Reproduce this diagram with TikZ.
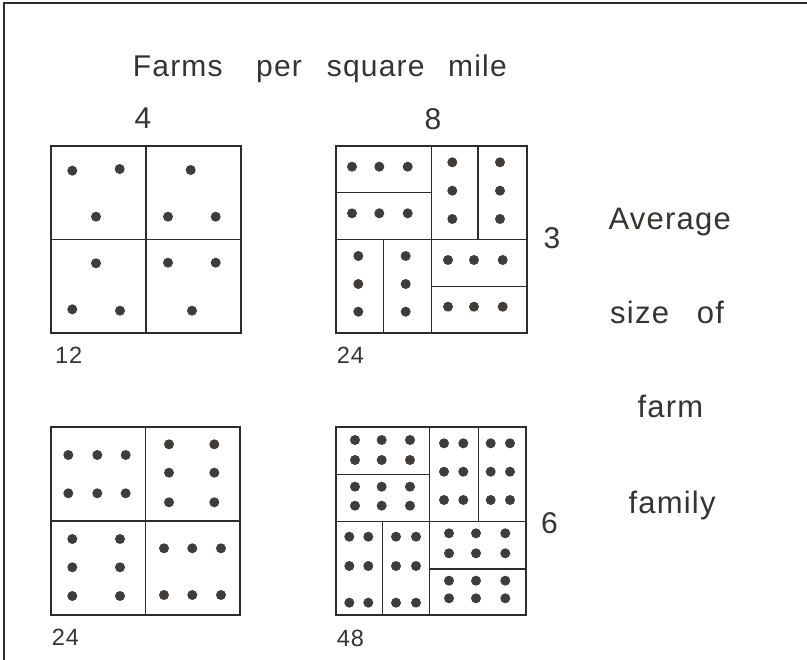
\documentclass[tikz,border=0pt]{standalone}
\usepackage{fontspec}
\setmainfont{Liberation Sans}
\newfontfamily\spaced[LetterSpace=4]{Liberation Sans}
\definecolor{ink}{HTML}{2E2B28}
\definecolor{txt}{HTML}{37332F}
\begin{document}
\begin{tikzpicture}[x=1pt,y=-1pt,
  frame/.style={line width=2pt,draw=ink},
  box/.style={line width=1.4pt,draw=ink},
  split/.style={line width=1.2pt,draw=ink},
  dot/.style={fill=ink!92,draw=none},
  big/.style={inner sep=0pt,text=txt,font=\spaced\fontsize{30}{36}\selectfont},
  side/.style={inner sep=0pt,text=txt,font=\spaced\fontsize{31}{37}\selectfont},
  small/.style={inner sep=0pt,text=txt,font=\spaced\fontsize{23.5}{28}\selectfont}]
\useasboundingbox[fill=white] (0,0) rectangle (807,660);
% frame (top and left edges)
\coordinate (fTR) at (807,3.5);
\coordinate (fTL) at (3.5,3.5);
\coordinate (fBL) at (3.5,660);
\draw[frame] (fTR) -- (fTL) -- (fBL);
% title
\node[big,anchor=base west] (t1) at (132.7,77) {Farms};
\node[big,anchor=base west] (t2) at (256,77) {per};
\node[big,anchor=base west] (t3) at (326.7,77) {square};
\node[big,anchor=base west] (t4) at (448,77) {mile};
\node[big,anchor=base] (n4) at (143,128.5) {4};
\node[big,anchor=base] (n8) at (433,130) {8};
% right text
\node[big,anchor=base west] (n3) at (543.3,248.3) {3};
\node[big,anchor=base west] (n6) at (541,534) {6};
\node[side,anchor=base west] (r1) at (608.3,230) {Average};
\node[side,anchor=base west] (r2a) at (610,324) {size};
\node[side,anchor=base west] (r2b) at (696.7,324) {of};
\node[side,anchor=base west] (r3) at (637.3,417.3) {farm};
\node[side,anchor=base west] (r4) at (628.3,513.3) {family};
% small labels
\node[small,anchor=base west] (l12) at (55,364) {12};
\node[small,anchor=base west] (l24a) at (336.7,364) {24};
\node[small,anchor=base west] (l24b) at (51.7,645) {24};
\node[small,anchor=base west] (l48) at (336.7,646) {48};
% ---- Square A (top left) ----
\draw[split] (146,146) -- (146,333);
\draw[split] (51,239.5) -- (241,239.5);
\draw[box] (51,146) rectangle (241,333);
\foreach \x/\y in {72.3/170.7,119.7/169,96/216.7,190.7/170,168/216.7,215.7/216.7,
  96/263.3,72.3/309.3,120/310.7,168/262.7,215.7/262.7,192/310.7}
  \fill[dot] (\x,\y) circle (5);
% ---- Square B (top right) ----
\draw[split] (336,239.5) -- (527,239.5);
\draw[split] (431.5,146) -- (431.5,333);
\draw[split] (336,192.5) -- (431.5,192.5);
\draw[split] (478,146) -- (478,239.5);
\draw[split] (383.5,239.5) -- (383.5,333);
\draw[split] (431.5,286.5) -- (527,286.5);
\draw[box] (336,146) rectangle (527,333);
\foreach \y in {166.7,213.3} \foreach \x in {352,379.3,407.7}
  \fill[dot] (\x,\y) circle (5);
\foreach \x in {452.3,500} \foreach \y in {162.3,190.7,219}
  \fill[dot] (\x,\y) circle (5);
\foreach \x in {358.3,405.7} \foreach \y in {256,284,311.7}
  \fill[dot] (\x,\y) circle (5);
\foreach \y in {260,306.7} \foreach \x in {448,474,502.7}
  \fill[dot] (\x,\y) circle (5);
% ---- Square C (bottom left) ----
\draw[split] (145.7,427) -- (145.7,615);
\draw[split] (51,521) -- (240,521);
\draw[box] (51,427) rectangle (240,615);
\foreach \y in {455,493.3} \foreach \x in {68.3,97.3,125.7}
  \fill[dot] (\x,\y) circle (5);
\foreach \x in {169,214.3} \foreach \y in {444.3,472.7,502.3}
  \fill[dot] (\x,\y) circle (5);
\foreach \x in {72.3,120} \foreach \y in {539,567.3,596}
  \fill[dot] (\x,\y) circle (5);
\foreach \y in {548.3,595} \foreach \x in {164,192.3,221}
  \fill[dot] (\x,\y) circle (5);
% ---- Square D (bottom right) ----
\draw[split] (336,521.7) -- (526,521.7);
\draw[split] (429.5,427) -- (429.5,615);
\draw[split] (336,474.3) -- (429.5,474.3);
\draw[split] (478.3,427) -- (478.3,521.7);
\draw[split] (382.3,521.7) -- (382.3,615);
\draw[split] (429.5,569) -- (526,569);
\draw[box] (336,427) rectangle (526,615);
\foreach \y in {440,460,486.7,505.7} \foreach \x in {355,381.7,410}
  \fill[dot] (\x,\y) circle (5);
\foreach \x in {444,463.3,490.7,510} \foreach \y in {443.3,471.7,500}
  \fill[dot] (\x,\y) circle (5);
\foreach \x in {349.3,368.3,396,416} \foreach \y in {536.7,566,602.7}
  \fill[dot] (\x,\y) circle (5);
\foreach \y in {533.3,553.3,580.7,598.3} \foreach \x in {449,476,505.3}
  \fill[dot] (\x,\y) circle (5);
\end{tikzpicture}
\end{document}
